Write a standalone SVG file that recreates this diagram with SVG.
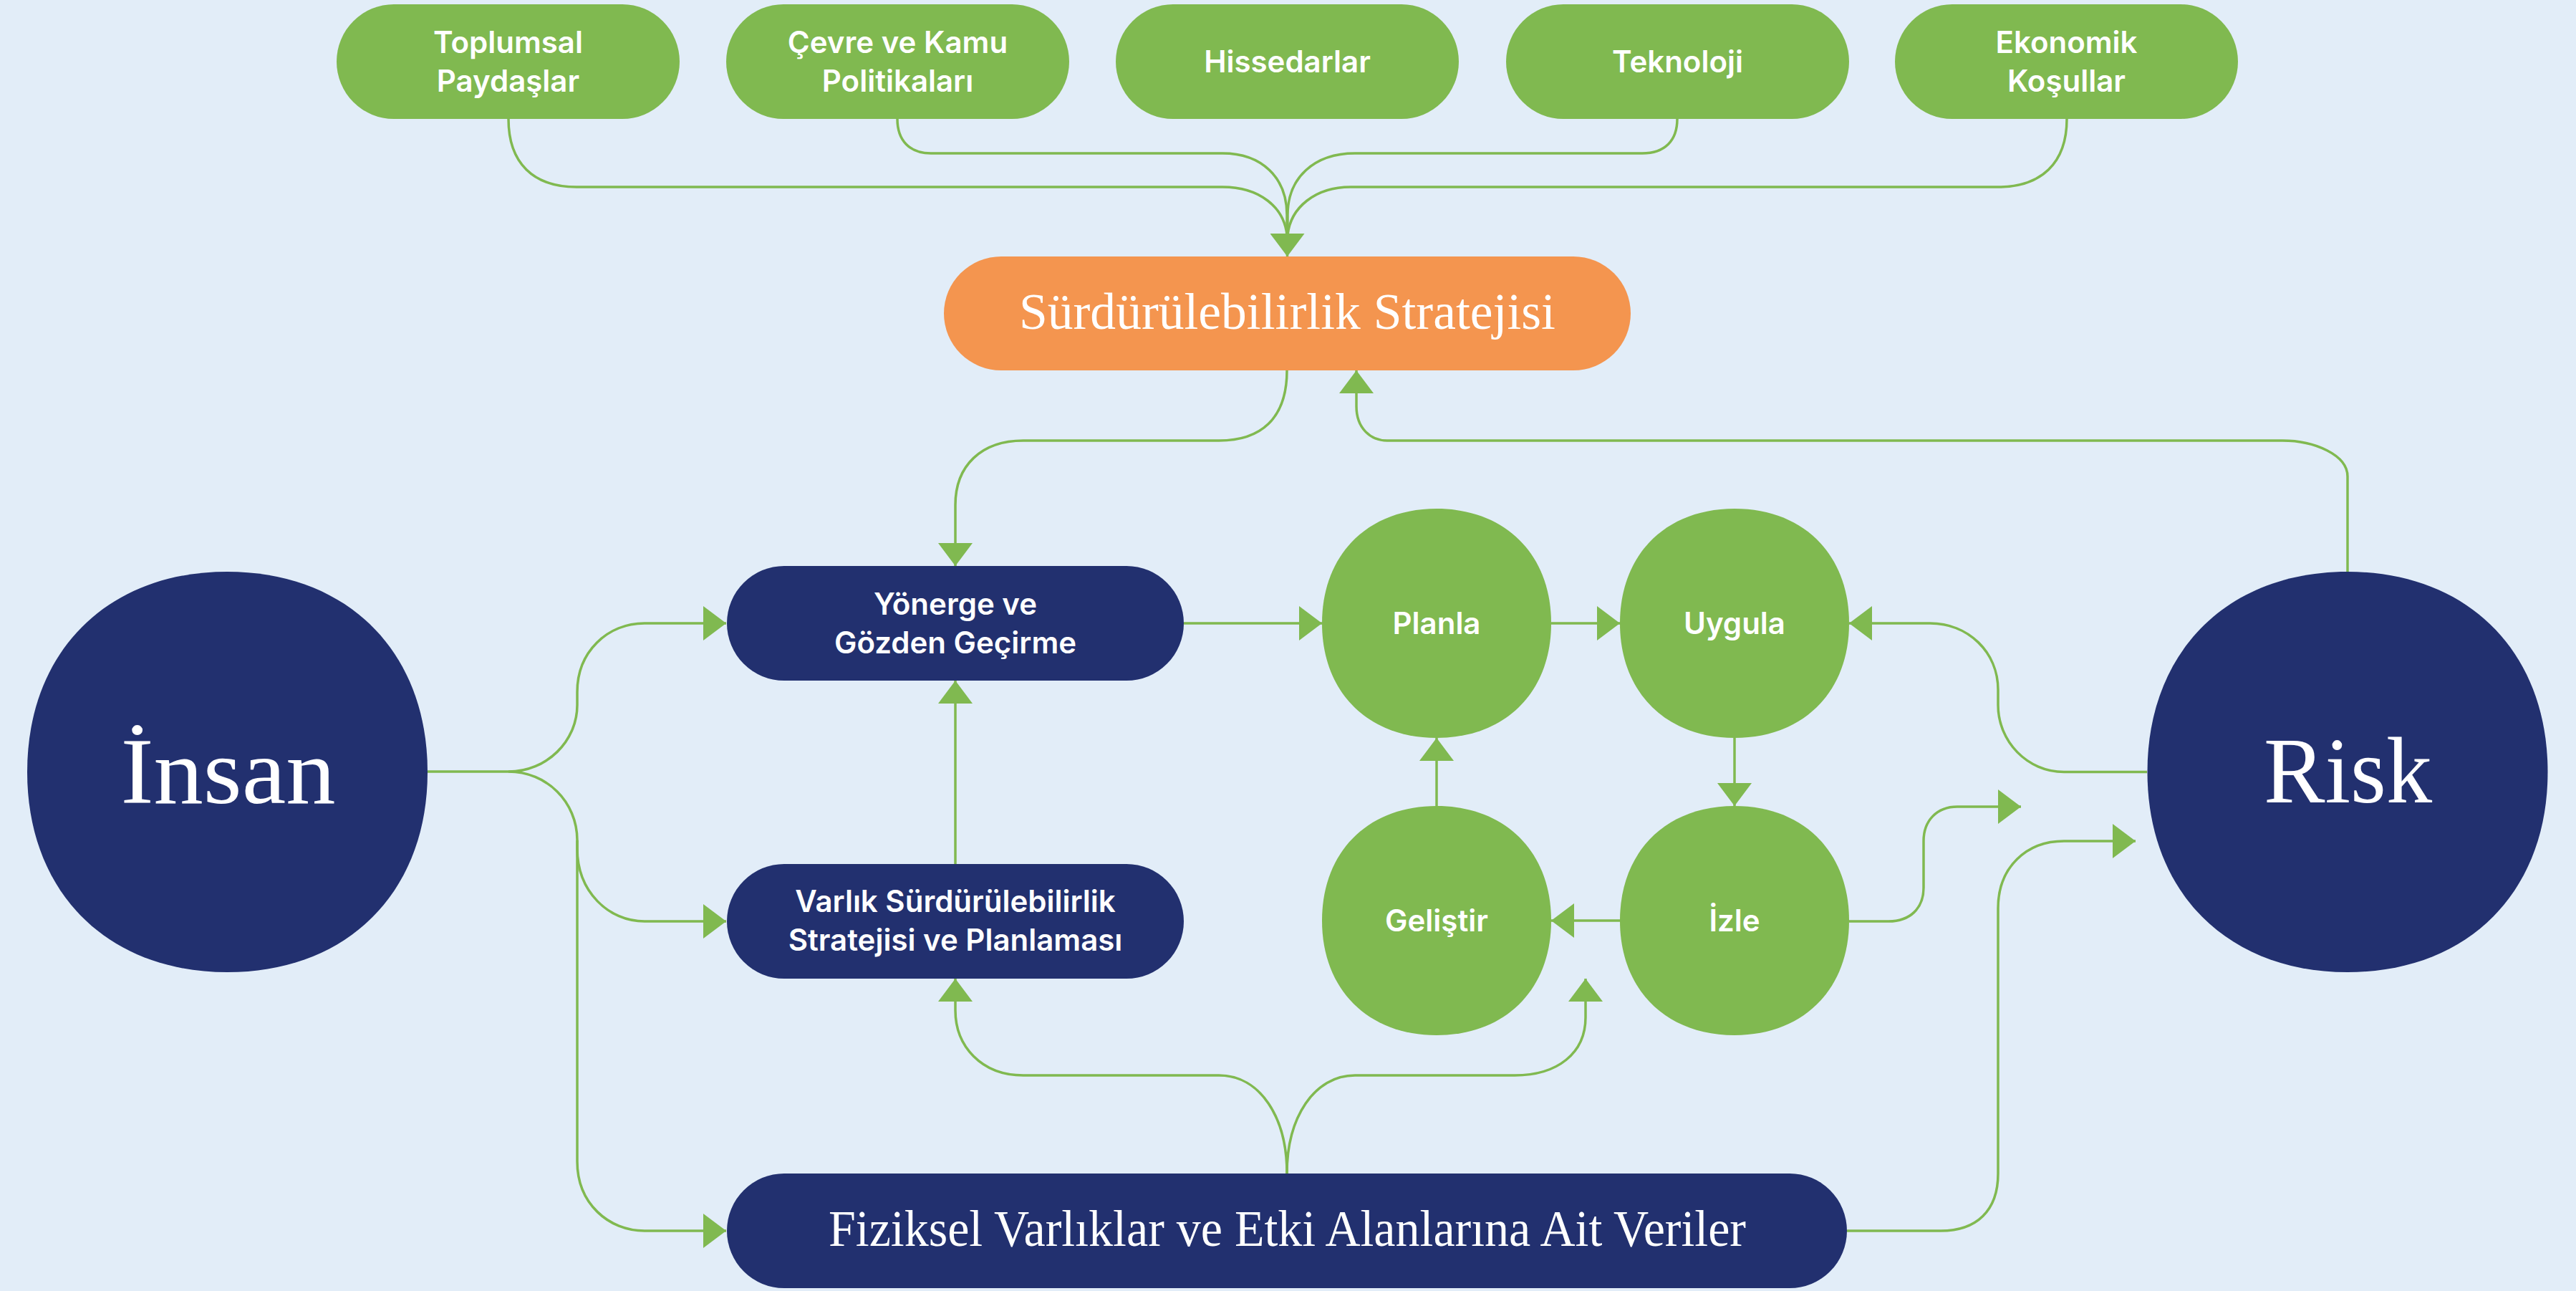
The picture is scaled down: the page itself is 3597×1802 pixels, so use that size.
<svg xmlns="http://www.w3.org/2000/svg" width="3597" height="1802" viewBox="0 0 3597 1802">
<style>
.bg{fill:#E2EDF8}
.g{fill:#80B950}
.o{fill:#F4954F}
.n{fill:#22306F}
.t{font-family:Inter,"Noto Sans","Liberation Sans",sans-serif;font-weight:600;font-size:42px;fill:#fff;text-anchor:middle}
.s{font-family:"Liberation Serif","DejaVu Serif",serif;fill:#fff;text-anchor:middle}
.c{fill:none;stroke:#80B950;stroke-width:3.5}
.a{marker-end:url(#ah)}
</style>
<defs>
<marker id="ah" markerUnits="userSpaceOnUse" viewBox="0 0 32 48" markerWidth="32" markerHeight="48" refX="32" refY="24" orient="auto">
<path d="M0,0 L32,24 L0,48 Z" fill="#80B950"/>
</marker>
</defs>
<rect class="bg" x="0" y="0" width="3597" height="1802"/>

<g id="connectors">
<path class="c" d="M710,166 C710,228 745,261 805,261 L1707,261 C1760,261 1793,290 1797,328"/>
<path class="c" d="M1253,166 C1253,196 1270,214 1300,214 L1707,214 C1762,214 1797,248 1797,300 L1797,326"/>
<path class="c" d="M2342,166 C2342,196 2325,214 2293,214 L1892,214 C1835,214 1798,248 1798,300 L1798,326"/>
<path class="c" d="M2886,166 C2886,228 2850,261 2790,261 L1886,261 C1836,261 1802,290 1798,328"/>
<path class="c a" d="M1797.5,318 L1797.5,358"/>
<path class="c a" d="M1797,517 C1797,585 1760,615 1702,615 L1429,615 C1370,615 1334,650 1334,705 L1334,790"/>
<path class="c a" d="M3278,798 L3278,665 C3278,635 3232,615 3187,615 L1937,615 C1914,615 1894,598 1894,567 L1894,517"/>
<path class="c a" d="M597,1077 L710,1077 C763,1077 806,1035 806,984 L806,966 C806,910 848,870 900,870 L1014,870"/>
<path class="c a" d="M710,1077 C763,1077 806,1119 806,1173 L806,1184 C806,1245 850,1286 900,1286 L1014,1286"/>
<path class="c a" d="M806,1173 L806,1621 C806,1680 850,1718 900,1718 L1014,1718"/>
<path class="c a" d="M1334,1206 L1334,950"/>
<path class="c a" d="M1797,1638 C1797,1560 1760,1501 1702,1501 L1429,1501 C1370,1501 1334,1460 1334,1410 L1334,1366"/>
<path class="c a" d="M1797,1638 C1797,1560 1835,1501 1892,1501 L2115,1501 C2175,1501 2214,1470 2214,1420 L2214,1366"/>
<path class="c a" d="M1653,870 L1846,870"/>
<path class="c a" d="M2166,870 L2262,870"/>
<path class="c a" d="M2422,1030 L2422,1125"/>
<path class="c a" d="M2262,1285 L2166,1285"/>
<path class="c a" d="M2006,1125 L2006,1030"/>
<path class="c a" d="M2998,1077.5 L2882,1077.5 C2831,1077.5 2790,1035 2790,984 L2790,963 C2790,910 2748,870 2695,870 L2582,870"/>
<path class="c a" d="M2582,1286 L2637,1286 C2667,1286 2686,1268 2686,1239 L2686,1174 C2686,1145 2705,1126 2733,1126 L2822,1126"/>
<path class="c a" d="M2579,1718 L2710,1718 C2760,1718 2790,1690 2790,1638 L2790,1268 C2790,1210 2830,1174 2882,1174 L2982,1174"/>
</g>

<g id="toplumsal">
<rect class="g" x="470" y="6" width="479" height="160" rx="80" ry="80"/>
<text class="t" x="709.5" y="74">Toplumsal</text>
<text class="t" x="709.5" y="128">Paydaşlar</text>
</g>
<g id="cevre">
<rect class="g" x="1014" y="6" width="479" height="160" rx="80" ry="80"/>
<text class="t" x="1253.5" y="74">Çevre ve Kamu</text>
<text class="t" x="1253.5" y="128">Politikaları</text>
</g>
<g id="hissedarlar">
<rect class="g" x="1558" y="6" width="479" height="160" rx="80" ry="80"/>
<text class="t" x="1797.5" y="101">Hissedarlar</text>
</g>
<g id="teknoloji">
<rect class="g" x="2103" y="6" width="479" height="160" rx="80" ry="80"/>
<text class="t" x="2342.5" y="101">Teknoloji</text>
</g>
<g id="ekonomik">
<rect class="g" x="2646" y="6" width="479" height="160" rx="80" ry="80"/>
<text class="t" x="2885.5" y="74">Ekonomik</text>
<text class="t" x="2885.5" y="128">Koşullar</text>
</g>

<g id="strateji">
<rect class="o" x="1318" y="358" width="959" height="159" rx="80" ry="80"/>
<text class="s" x="1797.5" y="459" font-size="72" textLength="749" lengthAdjust="spacingAndGlyphs">Sürdürülebilirlik Stratejisi</text>
</g>

<g id="insan">
<path class="n" d="M317.5,798 C485.2,798 597,909.8 597,1077.5 C597,1245.2 485.2,1357 317.5,1357 C149.8,1357 38,1245.2 38,1077.5 C38,909.8 149.8,798 317.5,798Z"/>
<text class="s" x="318.5" y="1121" font-size="131" textLength="300" lengthAdjust="spacingAndGlyphs">İnsan</text>
</g>

<g id="yonerge">
<rect class="n" x="1015" y="790" width="638" height="160" rx="80" ry="80"/>
<text class="t" x="1334" y="858">Yönerge ve</text>
<text class="t" x="1334" y="912">Gözden Geçirme</text>
</g>
<g id="varlik">
<rect class="n" x="1015" y="1206" width="638" height="160" rx="80" ry="80"/>
<text class="t" x="1334" y="1273">Varlık Sürdürülebilirlik</text>
<text class="t" x="1334" y="1327">Stratejisi ve Planlaması</text>
</g>
<g id="fiziksel">
<rect class="n" x="1015" y="1638" width="1564" height="160" rx="80" ry="80"/>
<text class="s" x="1797.5" y="1739" font-size="72" textLength="1281" lengthAdjust="spacingAndGlyphs">Fiziksel Varlıklar ve Etki Alanlarına Ait Veriler</text>
</g>

<g id="planla">
<path class="g" d="M2006,710 C2102,710 2166,774 2166,870 C2166,966 2102,1030 2006,1030 C1910,1030 1846,966 1846,870 C1846,774 1910,710 2006,710Z"/>
<text class="t" x="2006" y="885">Planla</text>
</g>
<g id="uygula">
<path class="g" d="M2422,710 C2518,710 2582,774 2582,870 C2582,966 2518,1030 2422,1030 C2326,1030 2262,966 2262,870 C2262,774 2326,710 2422,710Z"/>
<text class="t" x="2422" y="885">Uygula</text>
</g>
<g id="gelistir">
<path class="g" d="M2006,1125 C2102,1125 2166,1189 2166,1285 C2166,1381 2102,1445 2006,1445 C1910,1445 1846,1381 1846,1285 C1846,1189 1910,1125 2006,1125Z"/>
<text class="t" x="2006" y="1300">Geliştir</text>
</g>
<g id="izle">
<path class="g" d="M2422,1125 C2518,1125 2582,1189 2582,1285 C2582,1381 2518,1445 2422,1445 C2326,1445 2262,1381 2262,1285 C2262,1189 2326,1125 2422,1125Z"/>
<text class="t" x="2422" y="1300">İzle</text>
</g>

<g id="risk">
<path class="n" d="M3278,798 C3445.7,798 3557.5,909.8 3557.5,1077.5 C3557.5,1245.2 3445.7,1357 3278,1357 C3110.3,1357 2998.5,1245.2 2998.5,1077.5 C2998.5,909.8 3110.3,798 3278,798Z"/>
<text class="s" x="3278.5" y="1120" font-size="131" textLength="235" lengthAdjust="spacingAndGlyphs">Risk</text>
</g>
</svg>
